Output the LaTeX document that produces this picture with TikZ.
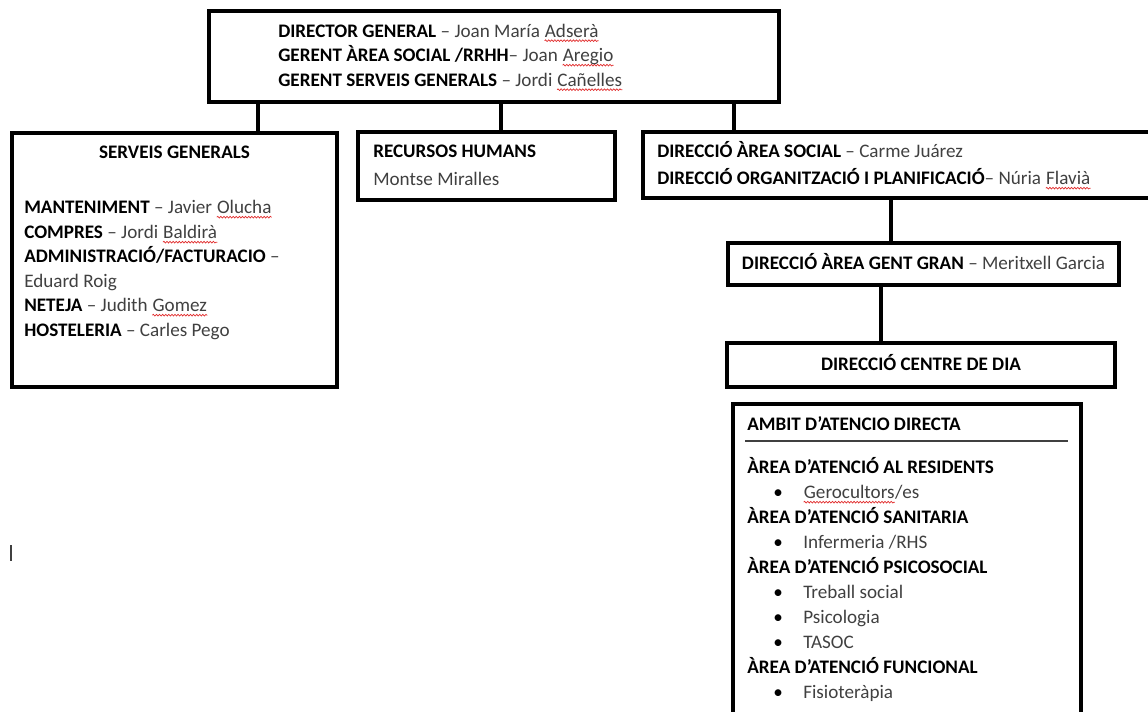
\documentclass[tikz,border=0pt]{standalone}
\usepackage{fontspec}
\setmainfont{Carlito}
\usetikzlibrary{calc,decorations.pathmorphing}

\definecolor{namegray}{RGB}{64,64,64}
\definecolor{wavered}{RGB}{225,45,45}
\newcommand{\spell}[1]{\tikz[baseline=(w.base)]{\node[inner sep=0pt,anchor=base] (w) {#1};
  \draw[wavered,line width=0.5pt,decorate,decoration={snake,amplitude=0.6pt,segment length=2.2pt}]
    ([yshift=-2.6pt]w.base west) -- ([yshift=-2.6pt]w.base east);}}
\newcommand{\nm}[1]{\textcolor{namegray}{#1}}

\tikzset{
  orgbox/.style 2 args={draw, line width=2.3pt, minimum width=#1*0.025cm,
                        minimum height=#2*0.025cm, inner sep=0pt},
  link/.style={line width=2.3pt},
  txt/.style={anchor=base west, inner sep=0pt, font=\fontsize{13.6}{16}\selectfont},
}

\begin{document}
\begin{tikzpicture}[x=0.025cm,y=-0.025cm]
     \useasboundingbox (0,0) rectangle (1148,711);
     \clip (0,0) rectangle (1148,711);
     % boxes
     \node[orgbox={570}{91}]  (dg) at (494,56.5)  {};
     \node[orgbox={325}{254}] (sg) at (174.5,260) {};
     \node[orgbox={257}{68}]  (rh) at (486.5,166) {};
     \node[orgbox={527}{66}]  (as) at (906.5,165) {};
     \node[orgbox={391}{42}]  (gg) at (923.5,264) {};
     \node[orgbox={388}{44}]  (cd) at (921,365)   {};
     \node[orgbox={348}{326}] (ad) at (907,567)   {};
     % connectors
     \coordinate (c1) at (258,0);
     \coordinate (c2) at (501,0);
     \coordinate (c3) at (734,0);
     \coordinate (c4) at (891,0);
     \coordinate (c5) at (881,0);
     \draw[link] (dg.south -| c1) -- (sg.north -| c1);
     \draw[link] (dg.south -| c2) -- (rh.north -| c2);
     \draw[link] (dg.south -| c3) -- (as.north -| c3);
     \draw[link] (as.south -| c4) -- (gg.north -| c4);
     \draw[link] (gg.south -| c5) -- (cd.north -| c5);
     % direccio
     \node[txt] (dg1) at (278,37)   {\textbf{DIRECTOR GENERAL} \nm{– Joan María \spell{Adserà}}};
     \node[txt] (dg2) at (278,61.5) {\textbf{GERENT ÀREA SOCIAL /RRHH}\nm{– Joan \spell{Aregio}}};
     \node[txt] (dg3) at (278,86)   {\textbf{GERENT SERVEIS GENERALS} \nm{– Jordi \spell{Cañelles}}};
     % serveis generals
     \node[txt,anchor=base] (sg0) at (174.5,158) {\textbf{SERVEIS GENERALS}};
     \node[txt] (sg1) at (24,213.5) {\textbf{MANTENIMENT} \nm{– Javier \spell{Olucha}}};
     \node[txt] (sg2) at (24,238.5) {\textbf{COMPRES} \nm{– Jordi \spell{Baldirà}}};
     \node[txt] (sg3) at (24,262.5) {\textbf{ADMINISTRACIÓ/FACTURACIO} \nm{–}};
     \node[txt] (sg4) at (24,287.5) {\nm{Eduard Roig}};
     \node[txt] (sg5) at (24,311.5) {\textbf{NETEJA} \nm{– Judith \spell{Gomez}}};
     \node[txt] (sg6) at (24,336.5) {\textbf{HOSTELERIA} \nm{– Carles Pego}};
     % recursos humans
     \node[txt] (rh1) at (373,157.5) {\textbf{RECURSOS HUMANS}};
     \node[txt] (rh2) at (373,185.5) {\nm{Montse Miralles}};
     % area social
     \node[txt] (as1) at (657,157.5) {\textbf{DIRECCIÓ ÀREA SOCIAL} \nm{– Carme Juárez}};
     \node[txt] (as2) at (657,184.5) {\textbf{DIRECCIÓ ORGANITZACIÓ I PLANIFICACIÓ}\nm{– Núria \spell{Flavià}}};
     \node[txt,anchor=base] (gg1) at (923.5,269.5) {\textbf{DIRECCIÓ ÀREA GENT GRAN} \nm{– Meritxell Garcia}};
     \node[txt,anchor=base] (cd1) at (921,370.5) {\textbf{DIRECCIÓ CENTRE DE DIA}};
     % ambit d'atencio directa
     \node[txt] (ad0) at (747,430.5) {\textbf{AMBIT D’ATENCIO DIRECTA}};
     \draw[namegray,line width=0.8pt] (745,441) -- (1068,441);
     \node[txt] (ad1) at (747,473.5) {\textbf{ÀREA D’ATENCIÓ AL RESIDENTS}};
     \node[txt,anchor=base] (b1) at (778,498.5) {•};
     \node[txt] (ad2) at (803,498.5) {\nm{\spell{Gerocultors}/es}};
     \node[txt] (ad3) at (747,523.5) {\textbf{ÀREA D’ATENCIÓ SANITARIA}};
     \node[txt,anchor=base] (b2) at (778,548.5) {•};
     \node[txt] (ad4) at (803,548.5) {\nm{Infermeria /RHS}};
     \node[txt] (ad5) at (747,573.5) {\textbf{ÀREA D’ATENCIÓ PSICOSOCIAL}};
     \node[txt,anchor=base] (b3) at (778,598.5) {•};
     \node[txt] (ad6) at (803,598.5) {\nm{Treball social}};
     \node[txt,anchor=base] (b4) at (778,623.5) {•};
     \node[txt] (ad7) at (803,623.5) {\nm{Psicologia}};
     \node[txt,anchor=base] (b5) at (778,648.5) {•};
     \node[txt] (ad8) at (803,648.5) {\nm{TASOC}};
     \node[txt] (ad9) at (747,673.5) {\textbf{ÀREA D’ATENCIÓ FUNCIONAL}};
     \node[txt,anchor=base] (b6) at (778,698.5) {•};
     \node[txt] (ad10) at (803,698.5) {\nm{Fisioteràpia}};
     % cursor mark
     \draw[namegray,line width=0.8pt] (11,545) -- (11,561);
    \end{tikzpicture}
\end{document}
